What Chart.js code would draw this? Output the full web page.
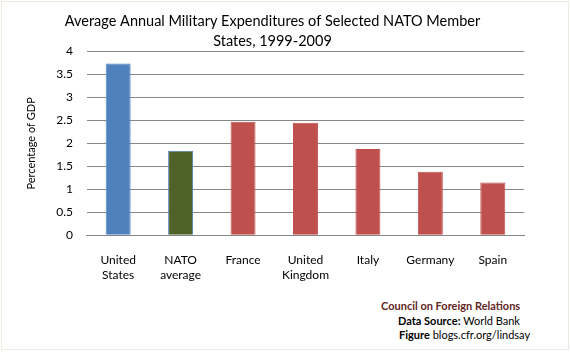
<!DOCTYPE html>
<html>
<head>
<meta charset="utf-8">
<script src="https://cdn.jsdelivr.net/npm/chart.js@4"></script>
<style>
    html, body { margin: 0; padding: 0; background: #fff; }
    #wrap { position: relative; width: 570px; height: 352px; }
    #frame { position: absolute; left: 1px; top: 1px; width: 566px; height: 347px; border: 1px solid #efe9e0; }
    #chart { position: absolute; left: 0; top: 0; }
    .note { position: absolute; font-family: Lato, sans-serif; font-size: 11px; color: #000; white-space: nowrap; }
</style>
</head>
<body>
<div id="wrap">
    <div id="frame"></div>
    <canvas id="chart" width="570" height="292"></canvas>
    <div class="note" style="left:381px; top:299px; color:#632523; font-weight:bold;">Council on Foreign Relations</div>
    <div class="note" style="left:398px; top:314px;"><b>Data Source:</b> World Bank</div>
    <div class="note" style="left:399px; top:328px;"><b>Figure</b> blogs.cfr.org/lindsay</div>
</div>
<script>
(function () {
    // データ
    const labels = [
        ['United', 'States'],
        ['NATO', 'average'],
        'France',
        ['United', 'Kingdom'],
        'Italy',
        'Germany',
        'Spain',
    ];
    const values = [3.74, 1.84, 2.47, 2.45, 1.88, 1.38, 1.15];

    // カラー
    const fillColors = ['#4f81bd', '#4f6228', '#c0504d', '#c0504d', '#c0504d', '#c0504d', '#c0504d'];
    const edgeColors = ['#4f81bd', '#4f81bd', '#c0504d', '#c0504d', '#c0504d', '#c0504d', '#c0504d'];

    const font = 'Lato, sans-serif';

    new Chart(document.getElementById('chart').getContext('2d'), {
        type: 'bar',
        data: {
            labels: labels,
            datasets: [
                {
                    data: values,
                    backgroundColor: fillColors,
                    borderColor: edgeColors,
                    borderWidth: 1,
                    barPercentage: 0.4,
                    categoryPercentage: 1,
                },
            ],
        },
        options: {
            responsive: false,
            animation: false,
            layout: { padding: { left: 21, right: 46, top: 1, bottom: 0 } },
            plugins: {
                legend: { display: false },
                tooltip: { enabled: false },
                title: {
                    display: true,
                    text: ['Average Annual Military Expenditures of Selected NATO Member', 'States, 1999-2009'],
                    color: '#000',
                    font: { family: font, size: 14.5, weight: 'normal', lineHeight: 1.4 },
                    padding: { top: 10, bottom: 0 },
                },
            },
            scales: {
                x: {
                    grid: { display: false },
                    border: { color: '#868686', width: 1 },
                    ticks: { color: '#000', font: { family: font, size: 12 }, padding: 10, maxRotation: 0 },
                },
                y: {
                    min: 0,
                    max: 4,
                    ticks: {
                        stepSize: 0.5,
                        color: '#000',
                        font: { family: font, size: 12 },
                        padding: 14,
                        callback: (v) => String(v),
                    },
                    grid: { color: '#868686', lineWidth: 1, drawTicks: false },
                    border: { display: false },
                    title: {
                        display: true,
                        text: 'Percentage of GDP',
                        color: '#000',
                        font: { family: font, size: 11 },
                        padding: { bottom: 4 },
                    },
                },
            },
        },
    });
})();
</script>
</body>
</html>
